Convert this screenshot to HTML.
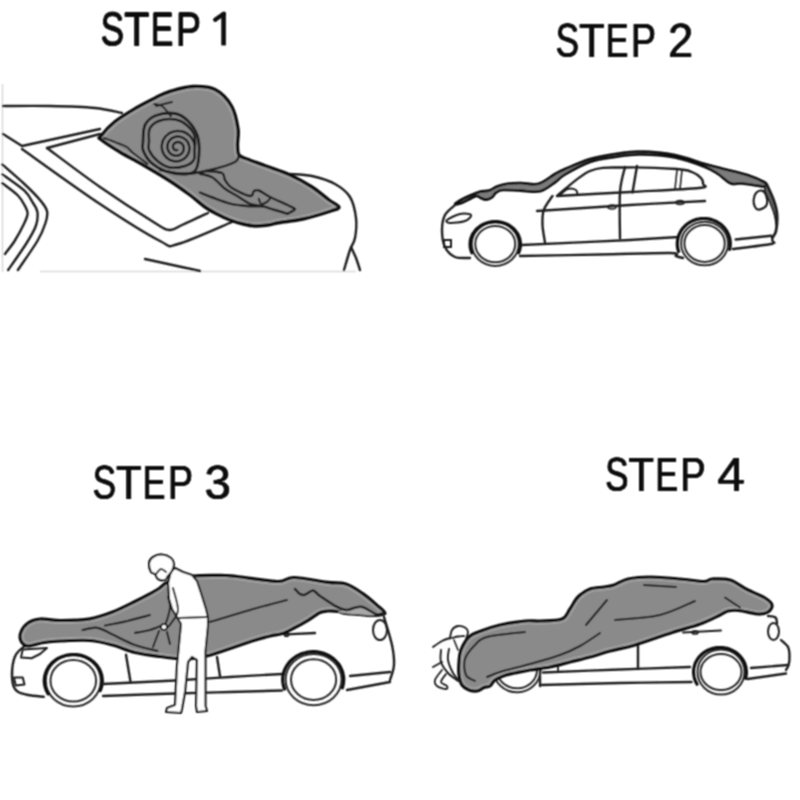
<!DOCTYPE html>
<html><head><meta charset="utf-8"><style>
html,body{margin:0;padding:0;background:#fff;}
svg{display:block;}
text{font-family:"Liberation Sans",sans-serif;fill:#0a0a0a;}
</style></head><body>
<svg width="800" height="800" viewBox="0 0 800 800">
<rect width="800" height="800" fill="#fff"/>
<filter id="bl" x="-5%" y="-5%" width="110%" height="110%"><feConvolveMatrix order="3" kernelMatrix="1 2 1 2 4 2 1 2 1" divisor="16" edgeMode="none"/></filter>
<g filter="url(#bl)">
<g id="tx"><text transform="translate(100.65,45.50) scale(0.3500,0.4754)" font-size="100">S</text><text transform="translate(124.07,45.50) scale(0.4158,0.4754)" font-size="100">T</text><text transform="translate(150.95,45.50) scale(0.3370,0.4754)" font-size="100">E</text><text transform="translate(175.89,45.50) scale(0.3764,0.4754)" font-size="100">P</text><text transform="translate(555.65,57.10) scale(0.3500,0.4841)" font-size="100">S</text><text transform="translate(579.07,57.10) scale(0.4158,0.4841)" font-size="100">T</text><text transform="translate(605.95,57.10) scale(0.3370,0.4841)" font-size="100">E</text><text transform="translate(630.89,57.10) scale(0.3764,0.4841)" font-size="100">P</text><text transform="translate(668.15,57.10) scale(0.4500,0.4841)" font-size="100">2</text><text transform="translate(92.65,498.80) scale(0.3500,0.4826)" font-size="100">S</text><text transform="translate(116.07,498.80) scale(0.4158,0.4826)" font-size="100">T</text><text transform="translate(142.95,498.80) scale(0.3370,0.4826)" font-size="100">E</text><text transform="translate(167.89,498.80) scale(0.3764,0.4826)" font-size="100">P</text><text transform="translate(204.51,498.80) scale(0.4723,0.4826)" font-size="100">3</text><text transform="translate(605.15,490.80) scale(0.3500,0.4797)" font-size="100">S</text><text transform="translate(628.57,490.80) scale(0.4158,0.4797)" font-size="100">T</text><text transform="translate(655.45,490.80) scale(0.3370,0.4797)" font-size="100">E</text><text transform="translate(680.39,490.80) scale(0.3764,0.4797)" font-size="100">P</text><text transform="translate(717.41,490.80) scale(0.4941,0.4797)" font-size="100">4</text></g><use href="#tx" x="0.4"/><use href="#tx" x="-0.4"/><use href="#tx" y="0.2"/><use href="#tx" y="-0.2"/><path d="M223.6,14.5 L223.6,45.4" stroke="#0a0a0a" stroke-width="4.6" stroke-linecap="butt" fill="none"/><path d="M223.8,13.6 L215.2,19.8" stroke="#0a0a0a" stroke-width="4.2" stroke-linecap="round" fill="none"/><path d="M221.3,12.6 L226,12.6 L226,16 Z" fill="#0a0a0a"/>
<line x1="2.5" y1="84" x2="2.5" y2="272" stroke="#d8d8d8" stroke-width="1.5"/>
<line x1="40" y1="271.5" x2="356" y2="271.5" stroke="#dcdcdc" stroke-width="1.5"/>
<path d="M3.0,106.0 C10.8,106.0 34.7,105.7 50.0,106.0 C65.3,106.3 83.0,106.8 95.0,108.0 C107.0,109.2 117.5,112.2 122.0,113.0" fill="none" stroke="#1e1e1e" stroke-width="2.4" stroke-linecap="round" stroke-linejoin="round"/>
<path d="M3,134 L22,146 L100,129" fill="none" stroke="#1e1e1e" stroke-width="2.4" stroke-linecap="round" stroke-linejoin="round"/>
<path d="M22.0,149.0 C35.0,158.2 77.0,188.7 100.0,204.0 C123.0,219.3 147.0,234.3 160.0,241.0 C173.0,247.7 166.0,247.2 178.0,244.0 C190.0,240.8 223.0,225.7 232.0,222.0" fill="none" stroke="#1e1e1e" stroke-width="2.4" stroke-linecap="round" stroke-linejoin="round"/>
<path d="M100,134 L47,148" fill="none" stroke="#1e1e1e" stroke-width="2.4" stroke-linecap="round" stroke-linejoin="round"/>
<path d="M47.0,148.0 C55.8,154.5 82.0,174.5 100.0,187.0 C118.0,199.5 143.3,215.8 155.0,223.0 C166.7,230.2 165.5,229.7 170.0,230.0 C174.5,230.3 175.7,227.8 182.0,225.0 C188.3,222.2 203.7,215.0 208.0,213.0" fill="none" stroke="#1e1e1e" stroke-width="2.4" stroke-linecap="round" stroke-linejoin="round"/>
<path d="M2.4,164.6 C6.1,167.8 18.1,178.1 24.4,184.0 C30.7,189.9 36.2,195.5 40.0,200.0 C43.8,204.5 46.1,207.2 47.0,211.0 C47.9,214.8 47.1,218.0 45.5,223.0 C43.9,228.0 42.0,233.2 37.4,241.0 C32.8,248.8 21.1,265.2 17.9,270.0" fill="none" stroke="#1e1e1e" stroke-width="2.4" stroke-linecap="round" stroke-linejoin="round"/>
<path d="M2.4,174.4 C6.1,177.1 19.3,185.9 24.4,190.7 C29.5,195.5 30.8,199.4 33.0,203.0 C35.2,206.6 36.9,208.2 37.4,212.0 C37.9,215.8 37.7,220.7 35.8,226.0 C33.9,231.3 30.6,236.7 26.0,244.0 C21.4,251.3 11.1,265.7 8.1,270.0" fill="none" stroke="#1e1e1e" stroke-width="2.4" stroke-linecap="round" stroke-linejoin="round"/>
<path d="M2.4,183.3 C5.0,185.3 14.1,191.7 17.9,195.5 C21.7,199.3 23.4,203.0 25.0,206.0 C26.6,209.0 27.7,210.6 27.6,213.4 C27.5,216.2 26.6,218.4 24.4,223.0 C22.2,227.6 17.9,235.8 14.6,241.0 C11.3,246.2 6.5,251.8 4.9,254.0" fill="none" stroke="#1e1e1e" stroke-width="2.4" stroke-linecap="round" stroke-linejoin="round"/>
<path d="M145,259 L200,271" fill="none" stroke="#1e1e1e" stroke-width="2.4" stroke-linecap="round" stroke-linejoin="round"/>
<path d="M290.0,174.0 C293.7,174.3 304.5,174.3 312.0,176.0 C319.5,177.7 328.7,180.5 335.0,184.0 C341.3,187.5 346.5,191.3 350.0,197.0 C353.5,202.7 355.2,211.2 356.0,218.0 C356.8,224.8 356.0,232.7 355.0,238.0 C354.0,243.3 351.8,244.7 350.0,250.0 C348.2,255.3 345.0,266.7 344.0,270.0" fill="none" stroke="#1e1e1e" stroke-width="2.4" stroke-linecap="round" stroke-linejoin="round"/>
<path d="M351.0,247.0 C351.8,248.8 354.5,254.2 356.0,258.0 C357.5,261.8 359.3,268.0 360.0,270.0" fill="none" stroke="#1e1e1e" stroke-width="2.4" stroke-linecap="round" stroke-linejoin="round"/>
<clipPath id="h1"><path d="M101.0,136.0 C103.2,133.1 108.5,126.8 114.5,122.0 C120.5,117.2 130.1,111.6 137.0,107.5 C143.9,103.4 150.5,100.2 156.0,97.5 C161.5,94.8 163.9,93.3 170.0,91.5 C176.1,89.7 185.0,86.8 192.5,86.5 C200.0,86.2 208.5,86.2 215.0,89.5 C221.5,92.8 227.7,99.5 231.5,106.0 C235.3,112.5 237.0,122.2 238.0,128.8 C239.0,135.2 237.3,140.6 237.5,145.0 C237.7,149.4 237.4,152.7 239.0,155.0 C240.6,157.3 242.5,157.2 247.0,159.0 C251.5,160.8 258.8,163.3 266.0,166.0 C273.2,168.7 282.3,171.5 290.0,175.0 C297.7,178.5 305.5,182.8 312.0,187.0 C318.5,191.2 324.5,196.7 329.0,200.0 C333.5,203.3 338.7,205.2 339.0,207.0 C339.3,208.8 337.0,209.0 331.0,211.0 C325.0,213.0 311.5,217.1 303.0,219.0 C294.5,220.9 285.8,221.5 280.0,222.5 C274.2,223.5 272.2,224.4 268.0,225.0 C263.8,225.6 259.2,226.2 255.0,226.0 C250.8,225.8 247.2,225.0 243.0,224.0 C238.8,223.0 234.3,221.7 230.0,220.0 C225.7,218.3 221.2,216.2 217.0,214.0 C212.8,211.8 209.5,210.2 205.0,207.0 C200.5,203.8 195.8,199.3 190.0,195.0 C184.2,190.7 177.5,185.8 170.0,181.0 C162.5,176.2 153.3,170.8 145.0,166.0 C136.7,161.2 127.3,156.4 120.0,152.0 C112.7,147.6 104.2,142.2 101.0,139.5 C97.8,136.8 98.8,138.9 101.0,136.0 Z"/></clipPath>
<path d="M101.0,136.0 C103.2,133.1 108.5,126.8 114.5,122.0 C120.5,117.2 130.1,111.6 137.0,107.5 C143.9,103.4 150.5,100.2 156.0,97.5 C161.5,94.8 163.9,93.3 170.0,91.5 C176.1,89.7 185.0,86.8 192.5,86.5 C200.0,86.2 208.5,86.2 215.0,89.5 C221.5,92.8 227.7,99.5 231.5,106.0 C235.3,112.5 237.0,122.2 238.0,128.8 C239.0,135.2 237.3,140.6 237.5,145.0 C237.7,149.4 237.4,152.7 239.0,155.0 C240.6,157.3 242.5,157.2 247.0,159.0 C251.5,160.8 258.8,163.3 266.0,166.0 C273.2,168.7 282.3,171.5 290.0,175.0 C297.7,178.5 305.5,182.8 312.0,187.0 C318.5,191.2 324.5,196.7 329.0,200.0 C333.5,203.3 338.7,205.2 339.0,207.0 C339.3,208.8 337.0,209.0 331.0,211.0 C325.0,213.0 311.5,217.1 303.0,219.0 C294.5,220.9 285.8,221.5 280.0,222.5 C274.2,223.5 272.2,224.4 268.0,225.0 C263.8,225.6 259.2,226.2 255.0,226.0 C250.8,225.8 247.2,225.0 243.0,224.0 C238.8,223.0 234.3,221.7 230.0,220.0 C225.7,218.3 221.2,216.2 217.0,214.0 C212.8,211.8 209.5,210.2 205.0,207.0 C200.5,203.8 195.8,199.3 190.0,195.0 C184.2,190.7 177.5,185.8 170.0,181.0 C162.5,176.2 153.3,170.8 145.0,166.0 C136.7,161.2 127.3,156.4 120.0,152.0 C112.7,147.6 104.2,142.2 101.0,139.5 C97.8,136.8 98.8,138.9 101.0,136.0 Z" fill="#8a8a8a"/>
<path d="M101.0,136.0 C103.2,133.1 108.5,126.8 114.5,122.0 C120.5,117.2 130.1,111.6 137.0,107.5 C143.9,103.4 150.5,100.2 156.0,97.5 C161.5,94.8 163.9,93.3 170.0,91.5 C176.1,89.7 185.0,86.8 192.5,86.5 C200.0,86.2 208.5,86.2 215.0,89.5 C221.5,92.8 227.7,99.5 231.5,106.0 C235.3,112.5 237.0,122.2 238.0,128.8 C239.0,135.2 237.3,140.6 237.5,145.0 C237.7,149.4 237.4,152.7 239.0,155.0 C240.6,157.3 242.5,157.2 247.0,159.0 C251.5,160.8 258.8,163.3 266.0,166.0 C273.2,168.7 282.3,171.5 290.0,175.0 C297.7,178.5 305.5,182.8 312.0,187.0 C318.5,191.2 324.5,196.7 329.0,200.0 C333.5,203.3 338.7,205.2 339.0,207.0 C339.3,208.8 337.0,209.0 331.0,211.0 C325.0,213.0 311.5,217.1 303.0,219.0 C294.5,220.9 285.8,221.5 280.0,222.5 C274.2,223.5 272.2,224.4 268.0,225.0 C263.8,225.6 259.2,226.2 255.0,226.0 C250.8,225.8 247.2,225.0 243.0,224.0 C238.8,223.0 234.3,221.7 230.0,220.0 C225.7,218.3 221.2,216.2 217.0,214.0 C212.8,211.8 209.5,210.2 205.0,207.0 C200.5,203.8 195.8,199.3 190.0,195.0 C184.2,190.7 177.5,185.8 170.0,181.0 C162.5,176.2 153.3,170.8 145.0,166.0 C136.7,161.2 127.3,156.4 120.0,152.0 C112.7,147.6 104.2,142.2 101.0,139.5 C97.8,136.8 98.8,138.9 101.0,136.0 Z" fill="none" stroke="#a3a3a3" stroke-width="7.4" clip-path="url(#h1)"/>
<path d="M101.0,136.0 C103.2,133.1 108.5,126.8 114.5,122.0 C120.5,117.2 130.1,111.6 137.0,107.5 C143.9,103.4 150.5,100.2 156.0,97.5 C161.5,94.8 163.9,93.3 170.0,91.5 C176.1,89.7 185.0,86.8 192.5,86.5 C200.0,86.2 208.5,86.2 215.0,89.5 C221.5,92.8 227.7,99.5 231.5,106.0 C235.3,112.5 237.0,122.2 238.0,128.8 C239.0,135.2 237.3,140.6 237.5,145.0 C237.7,149.4 237.4,152.7 239.0,155.0 C240.6,157.3 242.5,157.2 247.0,159.0 C251.5,160.8 258.8,163.3 266.0,166.0 C273.2,168.7 282.3,171.5 290.0,175.0 C297.7,178.5 305.5,182.8 312.0,187.0 C318.5,191.2 324.5,196.7 329.0,200.0 C333.5,203.3 338.7,205.2 339.0,207.0 C339.3,208.8 337.0,209.0 331.0,211.0 C325.0,213.0 311.5,217.1 303.0,219.0 C294.5,220.9 285.8,221.5 280.0,222.5 C274.2,223.5 272.2,224.4 268.0,225.0 C263.8,225.6 259.2,226.2 255.0,226.0 C250.8,225.8 247.2,225.0 243.0,224.0 C238.8,223.0 234.3,221.7 230.0,220.0 C225.7,218.3 221.2,216.2 217.0,214.0 C212.8,211.8 209.5,210.2 205.0,207.0 C200.5,203.8 195.8,199.3 190.0,195.0 C184.2,190.7 177.5,185.8 170.0,181.0 C162.5,176.2 153.3,170.8 145.0,166.0 C136.7,161.2 127.3,156.4 120.0,152.0 C112.7,147.6 104.2,142.2 101.0,139.5 C97.8,136.8 98.8,138.9 101.0,136.0 Z" fill="none" stroke="#111" stroke-width="3.4" stroke-linejoin="round"/>
<path d="M143.0,142.0 C143.3,139.2 142.8,129.4 145.0,125.0 C147.2,120.6 151.0,117.4 156.0,115.5 C161.0,113.6 169.7,112.6 175.0,113.5 C180.3,114.4 184.2,117.2 188.0,121.0 C191.8,124.8 195.7,130.3 197.5,136.0 C199.3,141.7 199.4,149.2 199.0,155.0 C198.6,160.8 197.8,167.8 195.0,171.0 C192.2,174.2 187.5,174.0 182.5,174.0 C177.5,174.0 170.2,172.9 165.0,171.0 C159.8,169.1 154.7,166.0 151.0,162.5 C147.3,159.0 144.3,153.4 143.0,150.0 C141.7,146.6 143.0,143.3 143.0,142.0" fill="none" stroke="#1e1e1e" stroke-width="2.8" stroke-linecap="round" stroke-linejoin="round"/>
<path d="M149.0,142.0 C149.2,139.7 147.8,131.7 150.0,128.0 C152.2,124.3 156.9,121.2 162.0,120.0 C167.1,118.8 175.2,118.7 180.5,121.0 C185.8,123.3 191.7,129.0 194.0,134.0 C196.3,139.0 194.5,146.7 194.5,151.0 C194.5,155.3 195.3,157.5 193.8,160.0 C192.2,162.5 189.0,164.8 185.0,166.0 C181.0,167.2 174.6,168.3 170.0,167.5 C165.4,166.7 161.0,163.9 157.5,161.0 C154.0,158.1 150.4,153.2 149.0,150.0 C147.6,146.8 149.0,143.3 149.0,142.0" fill="none" stroke="#1e1e1e" stroke-width="2.5" stroke-linecap="round" stroke-linejoin="round"/>
<path d="M160.0,170.0 C164.2,170.7 176.7,174.0 185.0,174.0 C193.3,174.0 201.7,172.0 210.0,170.0 C218.3,168.0 230.2,164.7 235.0,162.0 C239.8,159.3 238.3,155.3 239.0,154.0" fill="none" stroke="#1e1e1e" stroke-width="2.4" stroke-linecap="round" stroke-linejoin="round"/>
<path d="M104.0,138.0 C105.3,138.5 109.3,140.0 112.0,141.0 C114.7,142.0 117.4,142.9 120.0,144.0 C122.6,145.1 125.4,146.1 127.5,147.5 C129.6,148.9 129.2,149.8 132.5,152.5 C135.8,155.2 145.0,162.1 147.5,164.0" fill="none" stroke="#1e1e1e" stroke-width="2" stroke-linecap="round" stroke-linejoin="round"/>
<path d="M154.0,104.0 C155.3,104.3 159.8,104.7 162.0,106.0 C164.2,107.3 166.0,110.3 167.5,112.0 C169.0,113.7 170.4,115.3 171.0,116.0" fill="none" stroke="#1e1e1e" stroke-width="2" stroke-linecap="round" stroke-linejoin="round"/>
<path d="M156,106 L172,102" fill="none" stroke="#1e1e1e" stroke-width="2" stroke-linecap="round" stroke-linejoin="round"/>
<path d="M177.2,150.0 C177.1,150.0 176.9,150.1 176.8,150.1 C176.7,150.2 176.5,150.2 176.4,150.2 C176.2,150.2 176.1,150.2 175.9,150.2 C175.8,150.2 175.6,150.2 175.5,150.1 C175.3,150.1 175.2,150.0 175.0,150.0 C174.9,149.9 174.7,149.8 174.6,149.7 C174.4,149.6 174.3,149.5 174.1,149.4 C174.0,149.3 173.9,149.2 173.8,149.0 C173.7,148.9 173.5,148.7 173.5,148.6 C173.4,148.4 173.3,148.2 173.2,148.0 C173.1,147.9 173.1,147.7 173.0,147.5 C173.0,147.3 173.0,147.1 172.9,146.9 C172.9,146.6 172.9,146.4 173.0,146.2 C173.0,146.0 173.0,145.8 173.1,145.6 C173.1,145.4 173.2,145.1 173.3,144.9 C173.4,144.7 173.5,144.5 173.6,144.3 C173.8,144.1 173.9,143.9 174.1,143.7 C174.2,143.6 174.4,143.4 174.6,143.2 C174.8,143.1 175.0,142.9 175.2,142.8 C175.4,142.7 175.7,142.5 175.9,142.4 C176.2,142.3 176.4,142.3 176.7,142.2 C176.9,142.1 177.2,142.1 177.5,142.1 C177.7,142.1 178.0,142.1 178.3,142.1 C178.6,142.1 178.9,142.1 179.2,142.2 C179.4,142.3 179.7,142.4 180.0,142.5 C180.3,142.6 180.5,142.7 180.8,142.9 C181.1,143.0 181.3,143.2 181.5,143.4 C181.8,143.6 182.0,143.8 182.2,144.1 C182.4,144.3 182.6,144.6 182.8,144.8 C183.0,145.1 183.1,145.4 183.3,145.7 C183.4,146.0 183.5,146.3 183.6,146.6 C183.7,146.9 183.7,147.3 183.8,147.6 C183.8,148.0 183.8,148.3 183.8,148.6 C183.8,149.0 183.8,149.3 183.7,149.7 C183.6,150.0 183.5,150.4 183.4,150.7 C183.3,151.1 183.1,151.4 183.0,151.7 C182.8,152.1 182.6,152.4 182.4,152.7 C182.1,153.0 181.9,153.3 181.6,153.5 C181.3,153.8 181.0,154.0 180.7,154.3 C180.4,154.5 180.1,154.7 179.7,154.9 C179.4,155.0 179.0,155.2 178.6,155.3 C178.2,155.4 177.8,155.5 177.4,155.6 C177.0,155.7 176.6,155.7 176.2,155.7 C175.8,155.7 175.4,155.7 175.0,155.6 C174.5,155.6 174.1,155.5 173.7,155.4 C173.3,155.2 172.9,155.1 172.5,154.9 C172.1,154.7 171.7,154.5 171.4,154.2 C171.0,154.0 170.7,153.7 170.3,153.4 C170.0,153.1 169.7,152.8 169.4,152.4 C169.1,152.1 168.9,151.7 168.6,151.3 C168.4,150.9 168.2,150.5 168.0,150.0 C167.9,149.6 167.7,149.1 167.6,148.7 C167.5,148.2 167.4,147.7 167.4,147.3 C167.4,146.8 167.4,146.3 167.4,145.8 C167.5,145.3 167.5,144.8 167.7,144.4 C167.8,143.9 167.9,143.4 168.1,142.9 C168.3,142.5 168.5,142.0 168.8,141.6 C169.1,141.1 169.3,140.7 169.7,140.3 C170.0,139.9 170.4,139.5 170.8,139.2 C171.1,138.9 171.6,138.5 172.0,138.2 C172.4,138.0 172.9,137.7 173.4,137.5 C173.9,137.3 174.4,137.1 174.9,136.9 C175.4,136.8 176.0,136.7 176.5,136.6 C177.0,136.5 177.6,136.5 178.2,136.5 C178.7,136.5 179.3,136.6 179.8,136.7 C180.4,136.8 180.9,136.9 181.5,137.1 C182.0,137.3 182.5,137.5 183.0,137.8 C183.5,138.0 184.0,138.3 184.5,138.7 C185.0,139.0 185.4,139.4 185.8,139.8 C186.3,140.2 186.7,140.7 187.0,141.1 C187.4,141.6 187.7,142.1 188.0,142.6 C188.2,143.2 188.5,143.7 188.7,144.3 C188.9,144.9 189.1,145.5 189.2,146.1 C189.3,146.7 189.4,147.3 189.4,147.9 C189.4,148.5 189.4,149.2 189.3,149.8 C189.2,150.4 189.1,151.0 189.0,151.6 C188.8,152.3 188.6,152.9 188.3,153.4 C188.1,154.0 187.8,154.6 187.4,155.2 C187.1,155.7 186.7,156.2 186.3,156.7 C185.8,157.2 185.4,157.7 184.9,158.1 C184.3,158.5 183.8,158.9 183.2,159.3 C182.7,159.6 182.1,159.9 181.5,160.2 C180.8,160.5 180.2,160.7 179.5,160.9 C178.9,161.0 178.2,161.2 177.5,161.2 C176.8,161.3 176.1,161.3 175.4,161.3 C174.7,161.2 174.0,161.2 173.4,161.0 C172.7,160.9 172.0,160.7 171.3,160.4 C170.7,160.2 170.0,159.9 169.4,159.6 C168.8,159.2 168.2,158.8 167.6,158.4 C167.0,158.0 166.5,157.5 166.0,157.0 C165.5,156.4 165.0,155.9 164.6,155.3 C164.1,154.7 163.7,154.0 163.4,153.4 C163.1,152.7 162.8,152.0 162.6,151.3 C162.3,150.6 162.1,149.9 162.0,149.1 C161.9,148.4 161.8,147.6 161.8,146.9 C161.8,146.1 161.8,145.3 161.9,144.6 C162.1,143.8 162.2,143.1 162.4,142.3 C162.6,141.6 162.9,140.8 163.2,140.1 C163.6,139.4 164.0,138.7 164.4,138.1 C164.8,137.4 165.3,136.8 165.9,136.2 C166.4,135.6 167.0,135.1 167.6,134.6 C168.2,134.1 168.9,133.6 169.6,133.2 C170.3,132.8 171.0,132.4 171.7,132.1 C172.5,131.8 173.3,131.5 174.1,131.4 C174.9,131.2 175.7,131.0 176.5,131.0 C177.3,130.9 178.2,130.9 179.0,131.0 C179.8,131.0 180.7,131.1 181.5,131.3 C182.3,131.5 183.1,131.7 183.9,132.0 C184.7,132.3 185.5,132.7 186.2,133.1 C187.0,133.6 187.7,134.0 188.4,134.6 C189.0,135.1 189.7,135.7 190.3,136.3 C190.9,137.0 191.4,137.7 191.9,138.4 C192.4,139.1 192.8,139.9 193.2,140.7 C193.6,141.4 193.9,142.3 194.2,143.1 C194.5,144.0 194.7,145.3 194.8,145.7" fill="none" stroke="#1e1e1e" stroke-width="2.5" stroke-linecap="round" stroke-linejoin="round"/>
<path d="M206.0,171.0 C208.7,171.3 218.8,171.5 222.0,173.0 C225.2,174.5 223.3,177.5 225.0,180.0 C226.7,182.5 227.8,185.3 232.0,188.0 C236.2,190.7 246.3,195.5 250.0,196.0 C253.7,196.5 252.5,191.9 254.0,191.0 C255.5,190.1 256.3,189.5 259.0,190.5 C261.7,191.5 265.2,194.6 270.0,197.0 C274.8,199.4 283.3,203.0 287.5,205.0 C291.7,207.0 294.6,207.8 295.0,209.0 C295.4,210.2 291.2,211.7 290.0,212.5 C288.8,213.3 287.9,213.5 287.5,213.8" fill="none" stroke="#1e1e1e" stroke-width="2.4" stroke-linecap="round" stroke-linejoin="round"/>
<path d="M200.0,173.8 C202.1,174.4 208.3,175.0 212.5,177.5 C216.7,180.0 220.8,185.6 225.0,188.8 C229.2,191.9 233.3,193.8 237.5,196.2 C241.7,198.8 245.8,202.1 250.0,203.8 C254.2,205.4 258.3,205.2 262.5,206.2 C266.7,207.3 270.8,208.8 275.0,210.0 C279.2,211.2 285.4,213.1 287.5,213.8" fill="none" stroke="#1e1e1e" stroke-width="2.4" stroke-linecap="round" stroke-linejoin="round"/>
<path d="M200.0,192.5 C202.1,193.3 207.3,195.6 212.5,197.5 C217.7,199.4 224.8,202.3 231.0,203.8 C237.2,205.2 244.8,205.8 250.0,206.2 C255.2,206.7 260.4,206.2 262.5,206.2" fill="none" stroke="#1e1e1e" stroke-width="2.4" stroke-linecap="round" stroke-linejoin="round"/>
<path d="M258.8,198.8 C259.1,199.6 259.8,203.1 261.0,203.8 C262.2,204.4 264.5,203.3 266.0,202.5 C267.5,201.7 269.3,199.4 270.0,198.8" fill="none" stroke="#1e1e1e" stroke-width="2" stroke-linecap="round" stroke-linejoin="round"/>
<path d="M456.0,203.0 C457.6,201.8 461.8,199.3 465.6,197.5 C469.4,195.7 475.1,193.2 479.0,192.0 C482.9,190.8 486.0,191.5 489.0,190.6 C492.0,189.7 494.0,187.6 497.0,186.5 C500.0,185.4 503.1,184.3 507.0,183.8 C510.9,183.2 515.4,183.0 520.6,183.0 C525.9,183.0 532.8,185.2 538.5,183.8 C544.2,182.2 550.6,176.5 555.0,174.0 C559.4,171.5 559.2,171.5 565.0,169.0 C570.8,166.5 581.7,161.5 590.0,159.0 C598.3,156.5 606.7,155.2 615.0,154.0 C623.3,152.8 630.0,151.3 640.0,151.5 C650.0,151.7 664.2,152.9 675.0,155.0 C685.8,157.1 696.8,161.7 705.0,164.0 C713.2,166.3 716.9,167.2 724.0,169.0 C731.1,170.8 740.8,172.8 747.5,175.0 C754.2,177.2 760.8,180.2 764.0,182.0 C767.2,183.8 767.0,185.2 767.0,186.0 C767.0,186.8 768.2,186.9 764.0,186.5 C759.8,186.1 747.1,184.0 741.6,183.5 C736.1,183.0 734.9,185.1 731.0,183.5 C727.1,181.9 722.3,176.8 718.0,174.0 C713.7,171.2 712.2,169.8 705.0,167.0 C697.8,164.2 685.8,159.6 675.0,157.5 C664.2,155.4 650.0,154.6 640.0,154.5 C630.0,154.4 623.3,155.8 615.0,157.0 C606.7,158.2 598.3,159.1 590.0,162.0 C581.7,164.9 570.8,171.1 565.0,174.5 C559.2,177.9 559.2,179.6 555.0,182.4 C550.8,185.2 545.7,189.9 540.0,191.3 C534.3,192.7 526.8,190.8 520.6,190.6 C514.4,190.4 506.9,189.7 502.8,190.0 C498.7,190.3 497.8,191.4 496.0,192.7 C494.2,193.9 493.5,196.3 491.8,197.5 C490.1,198.7 487.8,199.5 486.0,199.6 C484.2,199.7 482.4,198.6 480.8,198.0 C479.2,197.4 478.4,195.8 476.6,196.0 C474.8,196.2 472.3,197.8 469.8,199.0 C467.3,200.2 463.8,202.1 461.5,203.0 C459.2,203.9 456.9,204.4 456.0,204.4 C455.1,204.4 454.4,204.2 456.0,203.0 Z" fill="#7c7c7c" stroke="#0a0a0a" stroke-width="2.6" stroke-linejoin="round"/>
<path d="M455.0,205.0 C453.3,206.7 447.2,210.8 445.0,215.0 C442.8,219.2 442.0,224.7 442.0,230.0 C442.0,235.3 442.8,242.5 445.0,247.0 C447.2,251.5 450.8,255.2 455.0,257.0 C459.2,258.8 467.5,257.8 470.0,258.0" fill="none" stroke="#1e1e1e" stroke-width="2.4" stroke-linecap="round" stroke-linejoin="round"/>
<path d="M447.0,220.0 C448.7,218.5 456.0,214.8 460.0,214.0 C464.0,213.2 470.2,213.8 471.0,215.0 C471.8,216.2 468.5,219.7 465.0,221.0 C461.5,222.3 453.0,223.2 450.0,223.0 C447.0,222.8 445.3,221.5 447.0,220.0 Z" fill="none" stroke="#1e1e1e" stroke-width="2" stroke-linejoin="round"/>
<rect x="444" y="240" width="7" height="7" fill="none" stroke="#1e1e1e" stroke-width="2"/>
<ellipse cx="495.25" cy="244.1" rx="23.5" ry="21.8" fill="none" stroke="#2a2a2a" stroke-width="2.0"/>
<ellipse cx="495.25" cy="244.1" rx="20" ry="18.2" fill="none" stroke="#2a2a2a" stroke-width="2.0"/>
<path d="M471.9,252.8 L471.2,251.1 L470.7,249.3 L470.3,247.5 L470.1,245.6 L470.1,243.8 L470.2,241.9 L470.5,240.1 L470.9,238.3 L471.6,236.5 L472.3,234.8 L473.3,233.1 L474.4,231.6 L475.6,230.1 L476.9,228.7 L478.4,227.4 L480.0,226.2 L481.6,225.1 L483.4,224.2 L485.3,223.4 L487.2,222.7 L489.2,222.2 L491.2,221.8 L493.2,221.6 L495.2,221.5 L497.3,221.6 L499.3,221.8 L501.3,222.2 L503.3,222.7 L505.2,223.4 L507.1,224.2 L508.9,225.1 L510.5,226.2 L512.1,227.4 L513.6,228.7 L514.9,230.1 L516.1,231.6 L517.2,233.1 L518.2,234.8 L518.9,236.5 L519.6,238.3 L520.0,240.1 L520.3,241.9 L520.4,243.8 L520.4,245.6 L520.2,247.5 L519.8,249.3 L519.3,251.1 L518.6,252.8" fill="none" stroke="#111" stroke-width="3.2" stroke-linecap="round"/>
<path d="M522.0,245.0 C540.0,244.2 604.0,241.3 630.0,240.0 C656.0,238.7 670.0,237.5 678.0,237.0" fill="none" stroke="#1e1e1e" stroke-width="2.4" stroke-linecap="round" stroke-linejoin="round"/>
<path d="M520.0,256.0 C533.3,255.8 575.0,255.0 600.0,254.5 C625.0,254.0 657.3,252.8 670.0,253.0 C682.7,253.2 673.8,255.2 676.0,256.0 C678.2,256.8 681.8,257.7 683.0,258.0" fill="none" stroke="#1e1e1e" stroke-width="2.4" stroke-linecap="round" stroke-linejoin="round"/>
<path d="M537.0,211.0 C552.5,210.0 602.0,206.7 630.0,205.0 C658.0,203.3 692.5,201.7 705.0,201.0" fill="none" stroke="#1e1e1e" stroke-width="2.4" stroke-linecap="round" stroke-linejoin="round"/>
<path d="M552.5,196.0 C551.0,198.3 545.4,205.2 543.8,210.0 C542.1,214.8 542.3,219.6 542.5,225.0 C542.7,230.4 544.6,239.6 545.0,242.5" fill="none" stroke="#1e1e1e" stroke-width="2.4" stroke-linecap="round" stroke-linejoin="round"/>
<path d="M557.0,196.0 C562.5,191.8 578.7,175.8 590.0,171.0 C601.3,166.2 610.5,167.8 625.0,167.5 C639.5,167.2 665.8,168.2 677.0,169.0 C688.2,169.8 688.0,170.5 692.0,172.0 C696.0,173.5 699.2,176.0 701.0,178.0 C702.8,180.0 703.3,182.3 703.0,184.0 C702.7,185.7 711.2,186.7 699.0,188.0 C686.8,189.3 653.7,190.7 630.0,192.0 C606.3,193.3 569.2,195.3 557.0,196.0" fill="none" stroke="#1e1e1e" stroke-width="2.4" stroke-linecap="round" stroke-linejoin="round"/>
<path d="M625.0,167.0 C624.2,171.2 620.8,180.2 620.0,192.0 C619.2,203.8 620.0,230.3 620.0,238.0" fill="none" stroke="#1e1e1e" stroke-width="2.4" stroke-linecap="round" stroke-linejoin="round"/>
<path d="M637,166 L632.5,192.5" fill="none" stroke="#1e1e1e" stroke-width="2.4" stroke-linecap="round" stroke-linejoin="round"/>
<path d="M677,170 L675,189" fill="none" stroke="#1e1e1e" stroke-width="1.6" stroke-linecap="round" stroke-linejoin="round"/>
<path d="M682,170 L680,189" fill="none" stroke="#1e1e1e" stroke-width="1.6" stroke-linecap="round" stroke-linejoin="round"/>
<path d="M560.0,195.0 C561.2,194.0 564.8,189.8 567.5,189.0 C570.2,188.2 574.3,189.0 576.0,190.0 C577.7,191.0 577.2,194.2 577.5,195.0" fill="none" stroke="#1e1e1e" stroke-width="2" stroke-linecap="round" stroke-linejoin="round"/>
<ellipse cx="612" cy="207" rx="4" ry="2" fill="none" stroke="#1e1e1e" stroke-width="1.6"/>
<ellipse cx="680" cy="202.5" rx="4" ry="2" fill="none" stroke="#1e1e1e" stroke-width="1.6"/>
<path d="M766.5,185.5 C767.9,187.1 771.9,195.2 773.6,200.0 C775.4,204.8 776.5,209.7 777.0,214.0 C777.5,218.3 776.9,225.7 776.5,226.0 C776.1,226.3 775.7,219.5 774.8,216.0 C773.9,212.5 772.6,209.2 771.0,205.0 C769.4,200.8 765.8,193.8 765.0,190.6 C764.2,187.3 765.1,183.9 766.5,185.5 Z" fill="#666" stroke="#151515" stroke-width="1.6" stroke-linejoin="round"/>
<path d="M767.0,185.0 C768.1,187.5 771.9,195.2 773.6,200.0 C775.3,204.8 776.6,208.8 777.0,214.0 C777.4,219.2 776.8,227.1 776.0,231.0 C775.2,234.9 773.0,236.4 772.4,237.5" fill="none" stroke="#1e1e1e" stroke-width="2.8" stroke-linecap="round" stroke-linejoin="round"/>
<path d="M761.8,190.6 C760.1,190.3 757.4,191.4 756.0,193.0 C754.6,194.6 753.8,197.7 753.6,200.0 C753.4,202.3 754.2,205.4 755.0,207.0 C755.8,208.6 757.1,209.4 758.5,209.6 C759.9,209.8 762.1,208.9 763.5,208.0 C764.9,207.1 766.6,206.2 767.0,204.0 C767.4,201.8 766.9,197.2 766.0,195.0 C765.1,192.8 763.5,190.9 761.8,190.6 Z" fill="none" stroke="#1e1e1e" stroke-width="2.1" stroke-linejoin="round"/>
<ellipse cx="704.6" cy="243.5" rx="23.5" ry="21.8" fill="none" stroke="#2a2a2a" stroke-width="2.0"/>
<ellipse cx="704.6" cy="243.5" rx="20.2" ry="18.4" fill="none" stroke="#2a2a2a" stroke-width="2.0"/>
<path d="M678.6,251.5 L678.0,249.6 L677.6,247.7 L677.4,245.8 L677.3,243.9 L677.4,242.0 L677.6,240.0 L678.0,238.1 L678.5,236.3 L679.2,234.4 L680.0,232.7 L680.9,231.0 L682.0,229.3 L683.2,227.8 L684.6,226.3 L686.0,225.0 L687.6,223.8 L689.3,222.6 L691.0,221.6 L692.8,220.8 L694.7,220.0 L696.6,219.4 L698.6,219.0 L700.6,218.7 L702.6,218.5 L704.7,218.5 L706.7,218.7 L708.7,218.9 L710.7,219.4 L712.6,219.9 L714.5,220.7 L716.4,221.5 L718.1,222.5 L719.8,223.6 L721.3,224.8 L722.8,226.1 L724.2,227.6 L725.4,229.1 L726.5,230.7 L727.5,232.4 L728.3,234.2 L729.0,236.0 L729.6,237.9 L730.0,239.8 L730.2,241.7 L730.3,243.6 L730.2,245.5 L730.0,247.5 L729.6,249.4" fill="none" stroke="#111" stroke-width="3.2" stroke-linecap="round"/>
<path d="M735.6,239.5 L771,235.8" fill="none" stroke="#1e1e1e" stroke-width="2.4" stroke-linecap="round" stroke-linejoin="round"/>
<path d="M733.0,249.0 C739.3,248.2 764.4,245.3 771.0,244.0 C777.6,242.7 772.2,242.2 772.4,241.0 C772.6,239.8 772.1,237.7 772.0,237.0" fill="none" stroke="#1e1e1e" stroke-width="2.4" stroke-linecap="round" stroke-linejoin="round"/>
<path d="M24.5,646.0 C23.0,647.5 17.8,651.0 15.8,654.8 C13.7,658.5 12.7,663.8 12.2,668.8 C11.8,673.7 12.1,680.7 13.0,684.5 C13.9,688.3 15.0,689.8 17.5,691.5 C20.0,693.2 23.6,694.1 28.0,695.0 C32.4,695.9 41.1,696.5 43.8,696.8" fill="none" stroke="#1e1e1e" stroke-width="2.4" stroke-linecap="round" stroke-linejoin="round"/>
<path d="M22.75,649.5 L21,657.4 L31.5,658.25 L40,654 L47,648 Z" fill="none" stroke="#1e1e1e" stroke-width="2" stroke-linejoin="round"/>
<path d="M14,677.5 L22.75,677.5 L24.5,684.5 L15.75,685.4 Z" fill="none" stroke="#1e1e1e" stroke-width="2" stroke-linejoin="round"/>
<ellipse cx="73.3" cy="680.8" rx="27.5" ry="25.7" fill="none" stroke="#2a2a2a" stroke-width="2.0"/>
<ellipse cx="73.3" cy="680.8" rx="22.8" ry="20.8" fill="none" stroke="#2a2a2a" stroke-width="2.0"/>
<path d="M48.2,693.9 L47.1,692.0 L46.1,689.9 L45.4,687.8 L44.8,685.7 L44.5,683.5 L44.3,681.3 L44.4,679.0 L44.6,676.8 L45.1,674.7 L45.8,672.5 L46.6,670.5 L47.7,668.5 L48.9,666.5 L50.3,664.7 L51.9,663.0 L53.6,661.5 L55.5,660.0 L57.5,658.7 L59.6,657.6 L61.8,656.7 L64.1,655.9 L66.4,655.2 L68.8,654.8 L71.3,654.6 L73.7,654.5 L76.2,654.6 L78.6,654.9 L81.0,655.4 L83.3,656.1 L85.6,657.0 L87.7,658.0 L89.8,659.2 L91.7,660.5 L93.6,662.0 L95.2,663.6 L96.8,665.3 L98.1,667.2 L99.3,669.1 L100.3,671.2 L101.1,673.3 L101.7,675.4 L102.1,677.6 L102.3,679.8 L102.3,682.0 L102.1,684.2 L101.6,686.4 L101.0,688.6 L100.2,690.7" fill="none" stroke="#111" stroke-width="3.2" stroke-linecap="round"/>
<path d="M103.0,684.0 C115.0,683.4 153.8,681.7 175.0,680.5 C196.2,679.3 212.2,678.1 230.0,677.0 C247.8,675.9 273.3,674.5 282.0,674.0" fill="none" stroke="#1e1e1e" stroke-width="2.4" stroke-linecap="round" stroke-linejoin="round"/>
<path d="M103.0,696.0 C115.0,695.6 153.8,694.2 175.0,693.5 C196.2,692.8 212.2,692.5 230.0,692.0 C247.8,691.5 273.3,690.8 282.0,690.5" fill="none" stroke="#1e1e1e" stroke-width="2.4" stroke-linecap="round" stroke-linejoin="round"/>
<path d="M350,676 L390,672" fill="none" stroke="#1e1e1e" stroke-width="2.4" stroke-linecap="round" stroke-linejoin="round"/>
<path d="M347,690 L390,682" fill="none" stroke="#1e1e1e" stroke-width="2.4" stroke-linecap="round" stroke-linejoin="round"/>
<path d="M126,654.75 L130.4,681" fill="none" stroke="#1e1e1e" stroke-width="2.4" stroke-linecap="round" stroke-linejoin="round"/>
<path d="M217,657 L220,676" fill="none" stroke="#1e1e1e" stroke-width="2.4" stroke-linecap="round" stroke-linejoin="round"/>
<path d="M286,634.4 L315,633" fill="none" stroke="#1e1e1e" stroke-width="2.4" stroke-linecap="round" stroke-linejoin="round"/>
<ellipse cx="286.5" cy="634.6" rx="2.2" ry="1.8" fill="none" stroke="#1e1e1e" stroke-width="1.6"/>
<path d="M384.0,617.0 C385.3,621.7 390.3,637.0 392.0,645.0 C393.7,653.0 394.3,659.2 394.0,665.0 C393.7,670.8 390.7,677.5 390.0,680.0" fill="none" stroke="#1e1e1e" stroke-width="2.4" stroke-linecap="round" stroke-linejoin="round"/>
<ellipse cx="380" cy="630" rx="7" ry="10" fill="none" stroke="#1e1e1e" stroke-width="2"/>
<ellipse cx="313.6" cy="679.6" rx="28" ry="25.6" fill="none" stroke="#2a2a2a" stroke-width="2.0"/>
<ellipse cx="313.6" cy="679.6" rx="22.6" ry="20.4" fill="none" stroke="#2a2a2a" stroke-width="2.0"/>
<path d="M284.5,689.1 L283.8,687.0 L283.3,684.9 L282.9,682.7 L282.7,680.5 L282.7,678.3 L282.9,676.1 L283.3,674.0 L283.9,671.8 L284.7,669.7 L285.6,667.7 L286.7,665.8 L288.0,663.9 L289.4,662.1 L291.0,660.5 L292.7,658.9 L294.6,657.5 L296.5,656.2 L298.6,655.1 L300.7,654.1 L303.0,653.3 L305.3,652.7 L307.6,652.2 L310.0,651.9 L312.4,651.7 L314.8,651.7 L317.2,651.9 L319.6,652.3 L321.9,652.9 L324.2,653.6 L326.4,654.4 L328.5,655.5 L330.5,656.7 L332.5,658.0 L334.3,659.4 L335.9,661.0 L337.5,662.7 L338.9,664.5 L340.1,666.4 L341.1,668.4 L342.0,670.4 L342.7,672.5 L343.2,674.7 L343.6,676.9 L343.7,679.1 L343.6,681.3 L343.4,683.5 L343.0,685.6 L342.4,687.8" fill="none" stroke="#111" stroke-width="3.2" stroke-linecap="round"/>
<clipPath id="h2"><path d="M21.0,632.0 C22.2,629.0 24.8,625.2 28.0,623.0 C31.2,620.8 34.5,619.4 40.0,619.0 C45.5,618.6 52.7,620.5 61.0,620.5 C69.3,620.5 81.4,620.2 90.0,618.8 C98.6,617.3 105.0,614.9 112.5,612.0 C120.0,609.1 127.5,605.2 135.0,601.5 C142.5,597.8 152.0,592.8 157.5,589.5 C163.0,586.2 162.1,584.2 168.0,582.0 C173.9,579.8 183.5,577.1 193.0,576.0 C202.5,574.9 217.7,575.4 225.0,575.5 C232.3,575.6 228.2,575.5 237.0,576.5 C245.8,577.5 268.0,581.3 277.5,581.5 C287.0,581.7 285.6,577.4 294.0,577.5 C302.4,577.6 319.3,581.3 328.0,582.4 C336.7,583.5 340.2,582.2 346.0,584.0 C351.8,585.8 357.5,590.0 362.5,593.4 C367.5,596.8 372.2,601.0 376.0,604.4 C379.8,607.8 385.7,611.6 385.0,613.5 C384.3,615.4 376.2,615.3 372.0,615.5 C367.8,615.7 364.3,614.8 360.0,614.5 C355.7,614.2 349.7,614.0 346.0,613.5 C342.3,613.0 341.0,611.9 338.0,611.5 C335.0,611.1 331.0,610.8 328.0,611.0 C325.0,611.2 323.4,610.9 320.0,612.5 C316.6,614.1 311.7,618.1 307.5,620.6 C303.3,623.1 299.2,625.4 295.0,627.5 C290.8,629.6 286.7,632.1 282.5,633.5 C278.3,634.9 275.1,634.8 270.0,636.0 C264.9,637.2 257.7,639.2 252.0,641.0 C246.3,642.8 243.2,644.1 236.0,646.5 C228.8,648.9 217.2,653.4 208.8,655.5 C200.2,657.6 193.1,658.8 185.0,659.0 C176.9,659.2 168.3,657.6 160.0,656.5 C151.7,655.4 142.9,654.4 135.0,652.5 C127.1,650.6 120.0,647.0 112.5,645.0 C105.0,643.0 98.6,641.2 90.0,640.5 C81.4,639.8 68.7,640.7 61.0,641.0 C53.3,641.3 49.5,641.7 44.0,642.5 C38.5,643.3 31.8,646.2 28.0,646.0 C24.2,645.8 22.2,643.3 21.0,641.0 C19.8,638.7 19.8,635.0 21.0,632.0 Z"/></clipPath>
<path d="M21.0,632.0 C22.2,629.0 24.8,625.2 28.0,623.0 C31.2,620.8 34.5,619.4 40.0,619.0 C45.5,618.6 52.7,620.5 61.0,620.5 C69.3,620.5 81.4,620.2 90.0,618.8 C98.6,617.3 105.0,614.9 112.5,612.0 C120.0,609.1 127.5,605.2 135.0,601.5 C142.5,597.8 152.0,592.8 157.5,589.5 C163.0,586.2 162.1,584.2 168.0,582.0 C173.9,579.8 183.5,577.1 193.0,576.0 C202.5,574.9 217.7,575.4 225.0,575.5 C232.3,575.6 228.2,575.5 237.0,576.5 C245.8,577.5 268.0,581.3 277.5,581.5 C287.0,581.7 285.6,577.4 294.0,577.5 C302.4,577.6 319.3,581.3 328.0,582.4 C336.7,583.5 340.2,582.2 346.0,584.0 C351.8,585.8 357.5,590.0 362.5,593.4 C367.5,596.8 372.2,601.0 376.0,604.4 C379.8,607.8 385.7,611.6 385.0,613.5 C384.3,615.4 376.2,615.3 372.0,615.5 C367.8,615.7 364.3,614.8 360.0,614.5 C355.7,614.2 349.7,614.0 346.0,613.5 C342.3,613.0 341.0,611.9 338.0,611.5 C335.0,611.1 331.0,610.8 328.0,611.0 C325.0,611.2 323.4,610.9 320.0,612.5 C316.6,614.1 311.7,618.1 307.5,620.6 C303.3,623.1 299.2,625.4 295.0,627.5 C290.8,629.6 286.7,632.1 282.5,633.5 C278.3,634.9 275.1,634.8 270.0,636.0 C264.9,637.2 257.7,639.2 252.0,641.0 C246.3,642.8 243.2,644.1 236.0,646.5 C228.8,648.9 217.2,653.4 208.8,655.5 C200.2,657.6 193.1,658.8 185.0,659.0 C176.9,659.2 168.3,657.6 160.0,656.5 C151.7,655.4 142.9,654.4 135.0,652.5 C127.1,650.6 120.0,647.0 112.5,645.0 C105.0,643.0 98.6,641.2 90.0,640.5 C81.4,639.8 68.7,640.7 61.0,641.0 C53.3,641.3 49.5,641.7 44.0,642.5 C38.5,643.3 31.8,646.2 28.0,646.0 C24.2,645.8 22.2,643.3 21.0,641.0 C19.8,638.7 19.8,635.0 21.0,632.0 Z" fill="#8a8a8a"/>
<path d="M21.0,632.0 C22.2,629.0 24.8,625.2 28.0,623.0 C31.2,620.8 34.5,619.4 40.0,619.0 C45.5,618.6 52.7,620.5 61.0,620.5 C69.3,620.5 81.4,620.2 90.0,618.8 C98.6,617.3 105.0,614.9 112.5,612.0 C120.0,609.1 127.5,605.2 135.0,601.5 C142.5,597.8 152.0,592.8 157.5,589.5 C163.0,586.2 162.1,584.2 168.0,582.0 C173.9,579.8 183.5,577.1 193.0,576.0 C202.5,574.9 217.7,575.4 225.0,575.5 C232.3,575.6 228.2,575.5 237.0,576.5 C245.8,577.5 268.0,581.3 277.5,581.5 C287.0,581.7 285.6,577.4 294.0,577.5 C302.4,577.6 319.3,581.3 328.0,582.4 C336.7,583.5 340.2,582.2 346.0,584.0 C351.8,585.8 357.5,590.0 362.5,593.4 C367.5,596.8 372.2,601.0 376.0,604.4 C379.8,607.8 385.7,611.6 385.0,613.5 C384.3,615.4 376.2,615.3 372.0,615.5 C367.8,615.7 364.3,614.8 360.0,614.5 C355.7,614.2 349.7,614.0 346.0,613.5 C342.3,613.0 341.0,611.9 338.0,611.5 C335.0,611.1 331.0,610.8 328.0,611.0 C325.0,611.2 323.4,610.9 320.0,612.5 C316.6,614.1 311.7,618.1 307.5,620.6 C303.3,623.1 299.2,625.4 295.0,627.5 C290.8,629.6 286.7,632.1 282.5,633.5 C278.3,634.9 275.1,634.8 270.0,636.0 C264.9,637.2 257.7,639.2 252.0,641.0 C246.3,642.8 243.2,644.1 236.0,646.5 C228.8,648.9 217.2,653.4 208.8,655.5 C200.2,657.6 193.1,658.8 185.0,659.0 C176.9,659.2 168.3,657.6 160.0,656.5 C151.7,655.4 142.9,654.4 135.0,652.5 C127.1,650.6 120.0,647.0 112.5,645.0 C105.0,643.0 98.6,641.2 90.0,640.5 C81.4,639.8 68.7,640.7 61.0,641.0 C53.3,641.3 49.5,641.7 44.0,642.5 C38.5,643.3 31.8,646.2 28.0,646.0 C24.2,645.8 22.2,643.3 21.0,641.0 C19.8,638.7 19.8,635.0 21.0,632.0 Z" fill="none" stroke="#a3a3a3" stroke-width="7.2" clip-path="url(#h2)"/>
<path d="M21.0,632.0 C22.2,629.0 24.8,625.2 28.0,623.0 C31.2,620.8 34.5,619.4 40.0,619.0 C45.5,618.6 52.7,620.5 61.0,620.5 C69.3,620.5 81.4,620.2 90.0,618.8 C98.6,617.3 105.0,614.9 112.5,612.0 C120.0,609.1 127.5,605.2 135.0,601.5 C142.5,597.8 152.0,592.8 157.5,589.5 C163.0,586.2 162.1,584.2 168.0,582.0 C173.9,579.8 183.5,577.1 193.0,576.0 C202.5,574.9 217.7,575.4 225.0,575.5 C232.3,575.6 228.2,575.5 237.0,576.5 C245.8,577.5 268.0,581.3 277.5,581.5 C287.0,581.7 285.6,577.4 294.0,577.5 C302.4,577.6 319.3,581.3 328.0,582.4 C336.7,583.5 340.2,582.2 346.0,584.0 C351.8,585.8 357.5,590.0 362.5,593.4 C367.5,596.8 372.2,601.0 376.0,604.4 C379.8,607.8 385.7,611.6 385.0,613.5 C384.3,615.4 376.2,615.3 372.0,615.5 C367.8,615.7 364.3,614.8 360.0,614.5 C355.7,614.2 349.7,614.0 346.0,613.5 C342.3,613.0 341.0,611.9 338.0,611.5 C335.0,611.1 331.0,610.8 328.0,611.0 C325.0,611.2 323.4,610.9 320.0,612.5 C316.6,614.1 311.7,618.1 307.5,620.6 C303.3,623.1 299.2,625.4 295.0,627.5 C290.8,629.6 286.7,632.1 282.5,633.5 C278.3,634.9 275.1,634.8 270.0,636.0 C264.9,637.2 257.7,639.2 252.0,641.0 C246.3,642.8 243.2,644.1 236.0,646.5 C228.8,648.9 217.2,653.4 208.8,655.5 C200.2,657.6 193.1,658.8 185.0,659.0 C176.9,659.2 168.3,657.6 160.0,656.5 C151.7,655.4 142.9,654.4 135.0,652.5 C127.1,650.6 120.0,647.0 112.5,645.0 C105.0,643.0 98.6,641.2 90.0,640.5 C81.4,639.8 68.7,640.7 61.0,641.0 C53.3,641.3 49.5,641.7 44.0,642.5 C38.5,643.3 31.8,646.2 28.0,646.0 C24.2,645.8 22.2,643.3 21.0,641.0 C19.8,638.7 19.8,635.0 21.0,632.0 Z" fill="none" stroke="#111" stroke-width="3.2" stroke-linejoin="round"/>
<path d="M82.5,630.0 C85.0,629.6 92.5,627.0 97.5,627.8 C102.5,628.5 106.2,631.6 112.5,634.5 C118.8,637.4 127.5,642.2 135.0,645.0 C142.5,647.8 153.8,650.0 157.5,651.0" fill="none" stroke="#1e1e1e" stroke-width="2.2" stroke-linecap="round" stroke-linejoin="round"/>
<path d="M105.0,625.5 C108.8,624.8 120.0,622.8 127.5,621.0 C135.0,619.2 146.2,616.0 150.0,615.0" fill="none" stroke="#1e1e1e" stroke-width="2.2" stroke-linecap="round" stroke-linejoin="round"/>
<path d="M135.0,633.0 C137.5,632.5 145.5,631.2 150.0,630.0 C154.5,628.8 160.0,626.2 162.0,625.5" fill="none" stroke="#1e1e1e" stroke-width="2.2" stroke-linecap="round" stroke-linejoin="round"/>
<path d="M210.0,622.0 C216.7,620.0 237.2,613.7 250.0,610.0 C262.8,606.3 280.8,601.7 287.0,600.0" fill="none" stroke="#1e1e1e" stroke-width="2" stroke-linecap="round" stroke-linejoin="round"/>
<path d="M338.0,611.5 C338.0,610.9 343.3,610.6 346.0,610.0 C348.7,609.4 351.2,608.5 354.0,608.0 C356.8,607.5 358.8,606.0 362.5,607.0 C366.2,608.0 374.4,612.6 376.0,614.0 C377.6,615.4 374.7,615.4 372.0,615.5 C369.3,615.6 364.3,614.8 360.0,614.5 C355.7,614.2 349.7,614.0 346.0,613.5 C342.3,613.0 338.0,612.1 338.0,611.5 Z" fill="#a8a8a8" stroke="none" stroke-width="0" stroke-linejoin="round"/>
<path d="M295.0,589.0 C295.8,589.8 298.4,593.0 300.0,594.0 C301.6,595.0 302.6,595.3 304.8,594.8 C306.9,594.2 310.5,590.4 313.0,590.6 C315.5,590.8 316.3,593.5 320.0,596.0 C323.7,598.5 330.7,603.4 335.0,605.8 C339.3,608.1 342.8,609.6 346.0,610.0 C349.2,610.4 351.2,608.5 354.0,608.0 C356.8,607.5 358.8,606.0 362.5,607.0 C366.2,608.0 372.4,613.0 376.0,614.0 C379.6,615.0 382.7,613.2 384.0,613.0" fill="none" stroke="#1e1e1e" stroke-width="2.5" stroke-linecap="round" stroke-linejoin="round"/>
<path d="M171,571 L175,568 L183,572 L192,575 L197,581 L201,593 L206,609 L208,617 L208,626 L205.5,651 L205.5,706 L207,711 L197,712 L196,706 L197,660 L192,657 L188,662 L185,692 L182,709 L181,713 L166,712 L167,708 L175,705 L177,665 L181,624 L172,609 L169,599 L168,583 Z" fill="#fff" stroke="#1e1e1e" stroke-width="2.2" stroke-linejoin="round"/>
<path d="M179,618 L207,617" fill="none" stroke="#1e1e1e" stroke-width="2" stroke-linecap="round" stroke-linejoin="round"/>
<path d="M168.0,597.0 C168.3,598.7 170.2,603.2 170.0,607.0 C169.8,610.8 168.0,616.8 167.0,620.0 C166.0,623.2 164.5,625.0 164.0,626.0" fill="none" stroke="#1e1e1e" stroke-width="2" stroke-linecap="round" stroke-linejoin="round"/>
<path d="M173.0,588.0 C173.8,591.7 178.2,604.3 178.0,610.0 C177.8,615.7 173.8,619.0 172.0,622.0 C170.2,625.0 167.8,627.0 167.0,628.0" fill="none" stroke="#1e1e1e" stroke-width="2" stroke-linecap="round" stroke-linejoin="round"/>
<circle cx="164" cy="627" r="3" fill="#fff" stroke="#1e1e1e" stroke-width="1.8"/>
<path d="M159,631 L153,647" fill="none" stroke="#1e1e1e" stroke-width="2" stroke-linecap="round" stroke-linejoin="round"/>
<path d="M167,632 L170,644" fill="none" stroke="#1e1e1e" stroke-width="2" stroke-linecap="round" stroke-linejoin="round"/>
<path d="M151.0,572.0 C150.0,570.2 148.7,565.5 149.0,563.0 C149.3,560.5 150.8,558.4 153.0,557.0 C155.2,555.6 159.0,554.3 162.0,554.5 C165.0,554.7 169.0,556.4 171.0,558.0 C173.0,559.6 173.8,561.8 174.0,564.0 C174.2,566.2 173.0,569.0 172.0,571.0 C171.0,573.0 169.2,574.5 168.0,576.0 C166.8,577.5 166.7,579.5 165.0,580.0 C163.3,580.5 159.7,580.0 158.0,579.0 C156.3,578.0 156.2,575.2 155.0,574.0 C153.8,572.8 152.0,573.8 151.0,572.0 Z" fill="#fff" stroke="#1e1e1e" stroke-width="2.2" stroke-linejoin="round"/>
<path d="M156.0,574.0 C156.8,573.2 159.3,569.3 161.0,569.0 C162.7,568.7 165.2,571.5 166.0,572.0" fill="none" stroke="#1e1e1e" stroke-width="1.8" stroke-linecap="round" stroke-linejoin="round"/>
<path d="M768.0,616.0 C769.2,616.2 774.0,616.3 775.5,617.5 C777.0,618.7 776.8,622.1 777.0,623.0" fill="none" stroke="#1e1e1e" stroke-width="2.4" stroke-linecap="round" stroke-linejoin="round"/>
<ellipse cx="773.5" cy="631.5" rx="5.5" ry="8.5" fill="none" stroke="#1e1e1e" stroke-width="2"/>
<path d="M781.0,640.0 C782.2,641.2 786.6,644.3 788.0,647.0 C789.4,649.7 789.4,653.0 789.5,656.0 C789.6,659.0 789.2,662.7 788.6,665.0 C788.0,667.3 786.4,669.2 786.0,670.0" fill="none" stroke="#1e1e1e" stroke-width="2.4" stroke-linecap="round" stroke-linejoin="round"/>
<path d="M751,668 L788,665" fill="none" stroke="#1e1e1e" stroke-width="2.4" stroke-linecap="round" stroke-linejoin="round"/>
<path d="M747.5,679 L786,673.5" fill="none" stroke="#1e1e1e" stroke-width="2.4" stroke-linecap="round" stroke-linejoin="round"/>
<ellipse cx="721" cy="672" rx="23.5" ry="22.5" fill="none" stroke="#2a2a2a" stroke-width="2.0"/>
<ellipse cx="721" cy="672" rx="20.5" ry="18" fill="none" stroke="#2a2a2a" stroke-width="2.0"/>
<path d="M697.1,684.2 L696.1,682.5 L695.3,680.6 L694.6,678.7 L694.1,676.8 L693.8,674.8 L693.6,672.8 L693.6,670.8 L693.8,668.8 L694.2,666.8 L694.7,664.9 L695.4,663.0 L696.3,661.2 L697.4,659.4 L698.5,657.7 L699.9,656.1 L701.3,654.7 L702.9,653.3 L704.6,652.1 L706.4,651.0 L708.3,650.0 L710.3,649.2 L712.3,648.6 L714.4,648.1 L716.6,647.7 L718.7,647.5 L720.9,647.5 L723.0,647.7 L725.2,648.0 L727.2,648.4 L729.3,649.1 L731.3,649.9 L733.2,650.8 L735.0,651.9 L736.7,653.1 L738.4,654.4 L739.8,655.8 L741.2,657.4 L742.4,659.1 L743.5,660.8 L744.4,662.6 L745.1,664.5 L745.7,666.4 L746.1,668.4 L746.3,670.4 L746.4,672.4 L746.3,674.4 L746.0,676.4 L745.5,678.3" fill="none" stroke="#111" stroke-width="3.2" stroke-linecap="round"/>
<path d="M543.0,672.5 C555.8,672.0 595.5,670.4 620.0,669.5 C644.5,668.6 678.3,667.4 690.0,667.0" fill="none" stroke="#1e1e1e" stroke-width="2.4" stroke-linecap="round" stroke-linejoin="round"/>
<path d="M541.0,685.0 C554.2,684.7 594.9,683.5 620.0,683.0 C645.1,682.5 679.6,682.2 691.5,682.0" fill="none" stroke="#1e1e1e" stroke-width="2.4" stroke-linecap="round" stroke-linejoin="round"/>
<path d="M540,670 L540,686" fill="none" stroke="#1e1e1e" stroke-width="2.4" stroke-linecap="round" stroke-linejoin="round"/>
<path d="M558,667 L558,672" fill="none" stroke="#1e1e1e" stroke-width="1.8" stroke-linecap="round" stroke-linejoin="round"/>
<path d="M638,645 L638,669" fill="none" stroke="#1e1e1e" stroke-width="2.4" stroke-linecap="round" stroke-linejoin="round"/>
<path d="M683,632.4 L721,630.6" fill="none" stroke="#1e1e1e" stroke-width="2" stroke-linecap="round" stroke-linejoin="round"/>
<ellipse cx="695" cy="632.4" rx="3" ry="1.6" fill="none" stroke="#1e1e1e" stroke-width="1.6"/>
<ellipse cx="517" cy="670" rx="23.5" ry="22.3" fill="none" stroke="#2a2a2a" stroke-width="2"/>
<ellipse cx="517" cy="670" rx="20" ry="18.3" fill="none" stroke="#2a2a2a" stroke-width="2"/>
<clipPath id="h3"><path d="M459.0,662.0 C459.3,657.8 459.3,654.2 461.0,650.0 C462.7,645.8 465.7,640.2 469.0,637.0 C472.3,633.8 475.8,633.0 481.0,631.0 C486.2,629.0 492.7,626.7 500.0,625.0 C507.3,623.3 518.3,621.7 525.0,621.0 C531.7,620.3 533.8,621.3 540.0,621.0 C546.2,620.7 557.0,621.0 562.0,619.0 C567.0,617.0 567.3,612.7 570.0,609.0 C572.7,605.3 574.7,600.3 578.0,597.0 C581.3,593.7 585.7,590.7 590.0,589.0 C594.3,587.3 600.0,587.7 604.0,587.0 C608.0,586.3 610.0,586.3 614.0,585.0 C618.0,583.7 622.0,580.3 628.0,579.0 C634.0,577.7 641.3,577.0 650.0,577.0 C658.7,577.0 671.0,578.2 680.0,579.0 C689.0,579.8 698.7,581.5 704.0,581.5 C709.3,581.5 707.7,579.2 712.0,579.0 C716.3,578.8 724.2,578.2 730.0,580.0 C735.8,581.8 741.2,586.5 747.0,589.5 C752.8,592.5 760.8,595.4 765.0,598.0 C769.2,600.6 771.5,602.7 772.0,605.0 C772.5,607.3 770.3,610.5 768.0,612.0 C765.7,613.5 762.8,614.2 758.0,614.0 C753.2,613.8 744.0,611.0 739.0,610.5 C734.0,610.0 731.2,610.2 728.0,611.0 C724.8,611.8 724.7,612.8 720.0,615.0 C715.3,617.2 708.0,621.1 700.0,624.0 C692.0,626.9 682.8,629.0 672.0,632.5 C661.2,636.0 645.3,641.9 635.0,645.0 C624.7,648.1 617.5,649.0 610.0,651.0 C602.5,653.0 596.7,655.2 590.0,657.0 C583.3,658.8 576.7,660.3 570.0,662.0 C563.3,663.7 556.7,665.7 550.0,667.0 C543.3,668.3 535.8,669.0 530.0,670.0 C524.2,671.0 519.0,672.2 515.0,673.0 C511.0,673.8 509.3,673.8 506.0,675.0 C502.7,676.2 497.7,678.2 495.0,680.0 C492.3,681.8 491.8,684.8 490.0,686.0 C488.2,687.2 486.2,686.7 484.0,687.5 C481.8,688.3 479.5,690.6 477.0,691.0 C474.5,691.4 471.5,691.0 469.0,690.0 C466.5,689.0 463.7,687.5 462.0,685.0 C460.3,682.5 459.5,678.8 459.0,675.0 C458.5,671.2 458.7,666.2 459.0,662.0 Z"/></clipPath>
<path d="M459.0,662.0 C459.3,657.8 459.3,654.2 461.0,650.0 C462.7,645.8 465.7,640.2 469.0,637.0 C472.3,633.8 475.8,633.0 481.0,631.0 C486.2,629.0 492.7,626.7 500.0,625.0 C507.3,623.3 518.3,621.7 525.0,621.0 C531.7,620.3 533.8,621.3 540.0,621.0 C546.2,620.7 557.0,621.0 562.0,619.0 C567.0,617.0 567.3,612.7 570.0,609.0 C572.7,605.3 574.7,600.3 578.0,597.0 C581.3,593.7 585.7,590.7 590.0,589.0 C594.3,587.3 600.0,587.7 604.0,587.0 C608.0,586.3 610.0,586.3 614.0,585.0 C618.0,583.7 622.0,580.3 628.0,579.0 C634.0,577.7 641.3,577.0 650.0,577.0 C658.7,577.0 671.0,578.2 680.0,579.0 C689.0,579.8 698.7,581.5 704.0,581.5 C709.3,581.5 707.7,579.2 712.0,579.0 C716.3,578.8 724.2,578.2 730.0,580.0 C735.8,581.8 741.2,586.5 747.0,589.5 C752.8,592.5 760.8,595.4 765.0,598.0 C769.2,600.6 771.5,602.7 772.0,605.0 C772.5,607.3 770.3,610.5 768.0,612.0 C765.7,613.5 762.8,614.2 758.0,614.0 C753.2,613.8 744.0,611.0 739.0,610.5 C734.0,610.0 731.2,610.2 728.0,611.0 C724.8,611.8 724.7,612.8 720.0,615.0 C715.3,617.2 708.0,621.1 700.0,624.0 C692.0,626.9 682.8,629.0 672.0,632.5 C661.2,636.0 645.3,641.9 635.0,645.0 C624.7,648.1 617.5,649.0 610.0,651.0 C602.5,653.0 596.7,655.2 590.0,657.0 C583.3,658.8 576.7,660.3 570.0,662.0 C563.3,663.7 556.7,665.7 550.0,667.0 C543.3,668.3 535.8,669.0 530.0,670.0 C524.2,671.0 519.0,672.2 515.0,673.0 C511.0,673.8 509.3,673.8 506.0,675.0 C502.7,676.2 497.7,678.2 495.0,680.0 C492.3,681.8 491.8,684.8 490.0,686.0 C488.2,687.2 486.2,686.7 484.0,687.5 C481.8,688.3 479.5,690.6 477.0,691.0 C474.5,691.4 471.5,691.0 469.0,690.0 C466.5,689.0 463.7,687.5 462.0,685.0 C460.3,682.5 459.5,678.8 459.0,675.0 C458.5,671.2 458.7,666.2 459.0,662.0 Z" fill="#8a8a8a"/>
<path d="M459.0,662.0 C459.3,657.8 459.3,654.2 461.0,650.0 C462.7,645.8 465.7,640.2 469.0,637.0 C472.3,633.8 475.8,633.0 481.0,631.0 C486.2,629.0 492.7,626.7 500.0,625.0 C507.3,623.3 518.3,621.7 525.0,621.0 C531.7,620.3 533.8,621.3 540.0,621.0 C546.2,620.7 557.0,621.0 562.0,619.0 C567.0,617.0 567.3,612.7 570.0,609.0 C572.7,605.3 574.7,600.3 578.0,597.0 C581.3,593.7 585.7,590.7 590.0,589.0 C594.3,587.3 600.0,587.7 604.0,587.0 C608.0,586.3 610.0,586.3 614.0,585.0 C618.0,583.7 622.0,580.3 628.0,579.0 C634.0,577.7 641.3,577.0 650.0,577.0 C658.7,577.0 671.0,578.2 680.0,579.0 C689.0,579.8 698.7,581.5 704.0,581.5 C709.3,581.5 707.7,579.2 712.0,579.0 C716.3,578.8 724.2,578.2 730.0,580.0 C735.8,581.8 741.2,586.5 747.0,589.5 C752.8,592.5 760.8,595.4 765.0,598.0 C769.2,600.6 771.5,602.7 772.0,605.0 C772.5,607.3 770.3,610.5 768.0,612.0 C765.7,613.5 762.8,614.2 758.0,614.0 C753.2,613.8 744.0,611.0 739.0,610.5 C734.0,610.0 731.2,610.2 728.0,611.0 C724.8,611.8 724.7,612.8 720.0,615.0 C715.3,617.2 708.0,621.1 700.0,624.0 C692.0,626.9 682.8,629.0 672.0,632.5 C661.2,636.0 645.3,641.9 635.0,645.0 C624.7,648.1 617.5,649.0 610.0,651.0 C602.5,653.0 596.7,655.2 590.0,657.0 C583.3,658.8 576.7,660.3 570.0,662.0 C563.3,663.7 556.7,665.7 550.0,667.0 C543.3,668.3 535.8,669.0 530.0,670.0 C524.2,671.0 519.0,672.2 515.0,673.0 C511.0,673.8 509.3,673.8 506.0,675.0 C502.7,676.2 497.7,678.2 495.0,680.0 C492.3,681.8 491.8,684.8 490.0,686.0 C488.2,687.2 486.2,686.7 484.0,687.5 C481.8,688.3 479.5,690.6 477.0,691.0 C474.5,691.4 471.5,691.0 469.0,690.0 C466.5,689.0 463.7,687.5 462.0,685.0 C460.3,682.5 459.5,678.8 459.0,675.0 C458.5,671.2 458.7,666.2 459.0,662.0 Z" fill="none" stroke="#a3a3a3" stroke-width="7.2" clip-path="url(#h3)"/>
<path d="M459.0,662.0 C459.3,657.8 459.3,654.2 461.0,650.0 C462.7,645.8 465.7,640.2 469.0,637.0 C472.3,633.8 475.8,633.0 481.0,631.0 C486.2,629.0 492.7,626.7 500.0,625.0 C507.3,623.3 518.3,621.7 525.0,621.0 C531.7,620.3 533.8,621.3 540.0,621.0 C546.2,620.7 557.0,621.0 562.0,619.0 C567.0,617.0 567.3,612.7 570.0,609.0 C572.7,605.3 574.7,600.3 578.0,597.0 C581.3,593.7 585.7,590.7 590.0,589.0 C594.3,587.3 600.0,587.7 604.0,587.0 C608.0,586.3 610.0,586.3 614.0,585.0 C618.0,583.7 622.0,580.3 628.0,579.0 C634.0,577.7 641.3,577.0 650.0,577.0 C658.7,577.0 671.0,578.2 680.0,579.0 C689.0,579.8 698.7,581.5 704.0,581.5 C709.3,581.5 707.7,579.2 712.0,579.0 C716.3,578.8 724.2,578.2 730.0,580.0 C735.8,581.8 741.2,586.5 747.0,589.5 C752.8,592.5 760.8,595.4 765.0,598.0 C769.2,600.6 771.5,602.7 772.0,605.0 C772.5,607.3 770.3,610.5 768.0,612.0 C765.7,613.5 762.8,614.2 758.0,614.0 C753.2,613.8 744.0,611.0 739.0,610.5 C734.0,610.0 731.2,610.2 728.0,611.0 C724.8,611.8 724.7,612.8 720.0,615.0 C715.3,617.2 708.0,621.1 700.0,624.0 C692.0,626.9 682.8,629.0 672.0,632.5 C661.2,636.0 645.3,641.9 635.0,645.0 C624.7,648.1 617.5,649.0 610.0,651.0 C602.5,653.0 596.7,655.2 590.0,657.0 C583.3,658.8 576.7,660.3 570.0,662.0 C563.3,663.7 556.7,665.7 550.0,667.0 C543.3,668.3 535.8,669.0 530.0,670.0 C524.2,671.0 519.0,672.2 515.0,673.0 C511.0,673.8 509.3,673.8 506.0,675.0 C502.7,676.2 497.7,678.2 495.0,680.0 C492.3,681.8 491.8,684.8 490.0,686.0 C488.2,687.2 486.2,686.7 484.0,687.5 C481.8,688.3 479.5,690.6 477.0,691.0 C474.5,691.4 471.5,691.0 469.0,690.0 C466.5,689.0 463.7,687.5 462.0,685.0 C460.3,682.5 459.5,678.8 459.0,675.0 C458.5,671.2 458.7,666.2 459.0,662.0 Z" fill="none" stroke="#111" stroke-width="3.2" stroke-linejoin="round"/>
<path d="M525.0,632.0 C518.7,632.8 495.3,634.8 487.0,637.0 C478.7,639.2 478.7,641.3 475.0,645.0 C471.3,648.7 466.5,654.0 465.0,659.0 C463.5,664.0 464.3,671.3 466.0,675.0 C467.7,678.7 473.5,680.0 475.0,681.0" fill="none" stroke="#1e1e1e" stroke-width="2" stroke-linecap="round" stroke-linejoin="round"/>
<path d="M487.0,677.0 C489.2,676.2 492.8,674.2 500.0,672.0 C507.2,669.8 520.0,666.8 530.0,664.0 C540.0,661.2 551.7,658.0 560.0,655.0 C568.3,652.0 573.3,649.7 580.0,646.0 C586.7,642.3 596.7,635.2 600.0,633.0" fill="none" stroke="#1e1e1e" stroke-width="2" stroke-linecap="round" stroke-linejoin="round"/>
<path d="M644,585 L676,587" fill="none" stroke="#1e1e1e" stroke-width="2" stroke-linecap="round" stroke-linejoin="round"/>
<path d="M586,625 L607,600" fill="none" stroke="#1e1e1e" stroke-width="2" stroke-linecap="round" stroke-linejoin="round"/>
<path d="M615.0,620.0 C622.5,619.2 646.7,618.2 660.0,615.0 C673.3,611.8 689.2,603.3 695.0,601.0" fill="none" stroke="#1e1e1e" stroke-width="2" stroke-linecap="round" stroke-linejoin="round"/>
<path d="M725,597.5 L740,607.5" fill="none" stroke="#1e1e1e" stroke-width="2" stroke-linecap="round" stroke-linejoin="round"/>
<path d="M450.0,638.5 C450.3,637.1 450.7,632.1 452.0,630.0 C453.3,627.9 455.8,626.4 458.0,626.0 C460.2,625.6 463.3,626.5 465.0,627.5 C466.7,628.5 467.8,630.1 468.0,632.0 C468.2,633.9 466.3,637.8 466.0,639.0" fill="none" stroke="#1e1e1e" stroke-width="1.9" stroke-linecap="round" stroke-linejoin="round"/>
<path d="M452.0,638.0 C453.0,637.8 456.0,636.8 458.0,636.5 C460.0,636.2 463.0,636.1 464.0,636.0" fill="none" stroke="#1e1e1e" stroke-width="1.8" stroke-linecap="round" stroke-linejoin="round"/>
<path d="M433.0,647.0 C434.5,646.0 439.2,642.5 442.0,641.0 C444.8,639.5 448.7,638.5 450.0,638.0" fill="none" stroke="#1e1e1e" stroke-width="1.9" stroke-linecap="round" stroke-linejoin="round"/>
<path d="M441.0,650.0 C441.0,652.0 439.8,658.2 441.0,662.0 C442.2,665.8 445.2,669.8 448.0,673.0 C450.8,676.2 456.3,679.7 458.0,681.0" fill="none" stroke="#1e1e1e" stroke-width="1.9" stroke-linecap="round" stroke-linejoin="round"/>
<path d="M449.0,649.0 C448.8,650.8 447.3,656.0 448.0,660.0 C448.7,664.0 451.0,669.3 453.0,673.0 C455.0,676.7 458.8,680.5 460.0,682.0" fill="none" stroke="#1e1e1e" stroke-width="1.9" stroke-linecap="round" stroke-linejoin="round"/>
<path d="M454,640 L458,650" fill="none" stroke="#1e1e1e" stroke-width="1.6" stroke-linecap="round" stroke-linejoin="round"/>
<path d="M433,667 L442,662" fill="none" stroke="#1e1e1e" stroke-width="1.9" stroke-linecap="round" stroke-linejoin="round"/>
<path d="M442.0,670.0 C440.8,671.7 435.8,677.3 435.0,680.0 C434.2,682.7 435.2,684.5 437.0,686.0 C438.8,687.5 444.3,689.0 446.0,689.0 C447.7,689.0 447.8,687.2 447.0,686.0 C446.2,684.8 441.2,684.0 441.0,682.0 C440.8,680.0 445.2,675.3 446.0,674.0" fill="none" stroke="#1e1e1e" stroke-width="1.8" stroke-linecap="round" stroke-linejoin="round"/>
</g>
</svg></body></html>
